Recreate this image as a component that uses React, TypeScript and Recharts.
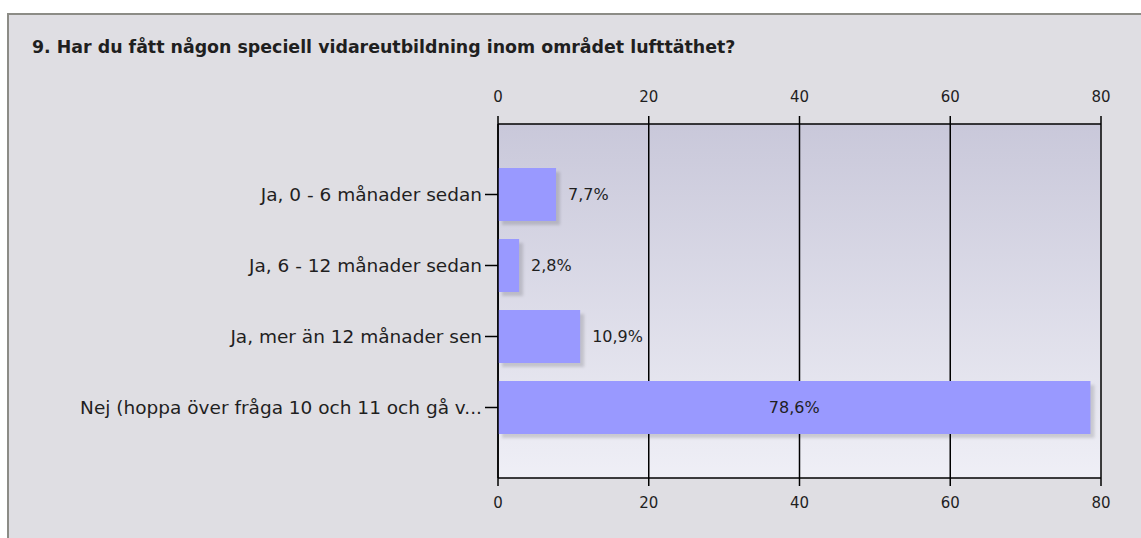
import React from 'react';
import {
  ComposedChart,
  Bar,
  Line,
  XAxis,
  YAxis,
  CartesianGrid,
  LabelList,
} from 'recharts';

const categories = [
  'Ja, 0 - 6 månader sedan',
  'Ja, 6 - 12 månader sedan',
  'Ja, mer än 12 månader sen',
  'Nej (hoppa över fråga 10 och 11 och gå v...',
];
const percents = [7.7, 2.8, 10.9, 78.6];
const xTicks = [0, 20, 40, 60, 80];

const title = '9. Har du fått någon speciell vidareutbildning inom området lufttäthet?';

const data = categories.map((name, i) => ({ name, value: percents[i] }));

const FONT = '"DejaVu Sans", Tahoma, sans-serif';
const TEXT = '#1f1f1f';

const fmt = (v: number) => v.toFixed(1).replace('.', ',') + '%';

const ShadowBar = (props: any) => {
  const { x, y, width, height } = props;
  return (
    <g>
      <rect x={x + 4} y={y + 4} width={width} height={height} fill="#000" fillOpacity={0.14} filter="url(#barBlur)" />
      <rect x={x} y={y} width={width} height={height} fill="#9999ff" />
    </g>
  );
};

const BarLabel = (props: any) => {
  const { x, y, width, height, value } = props;
  const inside = value > 50;
  return (
    <text
      x={inside ? x + width / 2 : x + width + 12}
      y={y + height / 2}
      textAnchor={inside ? 'middle' : 'start'}
      dominantBaseline="central"
      fontFamily={FONT}
      fontSize={16}
      fill={TEXT}
    >
      {fmt(value)}
    </text>
  );
};

export default function App() {
  return (
    <div style={{ position: 'absolute', left: 0, top: 0, width: 1141, height: 538, background: '#fff', overflow: 'hidden' }}>
      <div
        style={{
          position: 'absolute',
          left: 7,
          top: 13,
          width: 1140,
          height: 530,
          background: '#dfdee3',
          borderTop: '2px solid #8c8c86',
          borderLeft: '2px solid #8c8c86',
        }}
      />
      <div
        style={{
          position: 'absolute',
          left: 32,
          top: 36,
          fontFamily: FONT,
          fontWeight: 'bold',
          fontSize: 17.4,
          lineHeight: '22px',
          color: TEXT,
          whiteSpace: 'nowrap',
        }}
      >
        {title}
      </div>
      <div style={{ position: 'absolute', left: 0, top: 0 }}>
        <ComposedChart
          width={1141}
          height={538}
          data={data}
          layout="vertical"
          margin={{ top: 84, right: 40, bottom: 20, left: 0 }}
        >
          <defs>
            <linearGradient id="plotBg" x1="0" y1="0" x2="0" y2="1">
              <stop offset="0%" stopColor="#c9c8da" />
              <stop offset="100%" stopColor="#efeff6" />
            </linearGradient>
            <filter id="barBlur" x="-10%" y="-20%" width="120%" height="140%">
              <feGaussianBlur stdDeviation="1.5" />
            </filter>
          </defs>
          <CartesianGrid
            xAxisId="bottom"
            horizontal={false}
            stroke="#000"
            strokeWidth={1.5}
            fill="url(#plotBg)"
            fillOpacity={1}
          />
          <XAxis
            xAxisId="top"
            orientation="top"
            type="number"
            domain={[0, 80]}
            ticks={xTicks}
            height={40}
            tickSize={8}
            tickMargin={14}
            stroke="#000"
            strokeWidth={1.5}
            tick={{ fill: TEXT, fontSize: 15, fontFamily: FONT }}
          />
          <XAxis
            xAxisId="bottom"
            orientation="bottom"
            type="number"
            domain={[0, 80]}
            ticks={xTicks}
            height={40}
            tickSize={8}
            tickMargin={11}
            stroke="#000"
            strokeWidth={1.5}
            tick={{ fill: TEXT, fontSize: 15, fontFamily: FONT }}
          />
          <YAxis
            type="category"
            dataKey="name"
            width={498}
            tickSize={13}
            tickMargin={3}
            padding={{ top: 35, bottom: 35 }}
            stroke="#000"
            strokeWidth={1.5}
            interval={0}
            tick={{ fill: TEXT, fontSize: 18.5, fontFamily: FONT }}
          />
          <Bar
            xAxisId="bottom"
            dataKey="value"
            barSize={53}
            shape={ShadowBar}
            isAnimationActive={false}
          >
            <LabelList dataKey="value" content={BarLabel} />
          </Bar>
          <Line
            xAxisId="top"
            dataKey="value"
            stroke="none"
            dot={false}
            activeDot={false}
            legendType="none"
            isAnimationActive={false}
          />
        </ComposedChart>
      </div>
    </div>
  );
}
